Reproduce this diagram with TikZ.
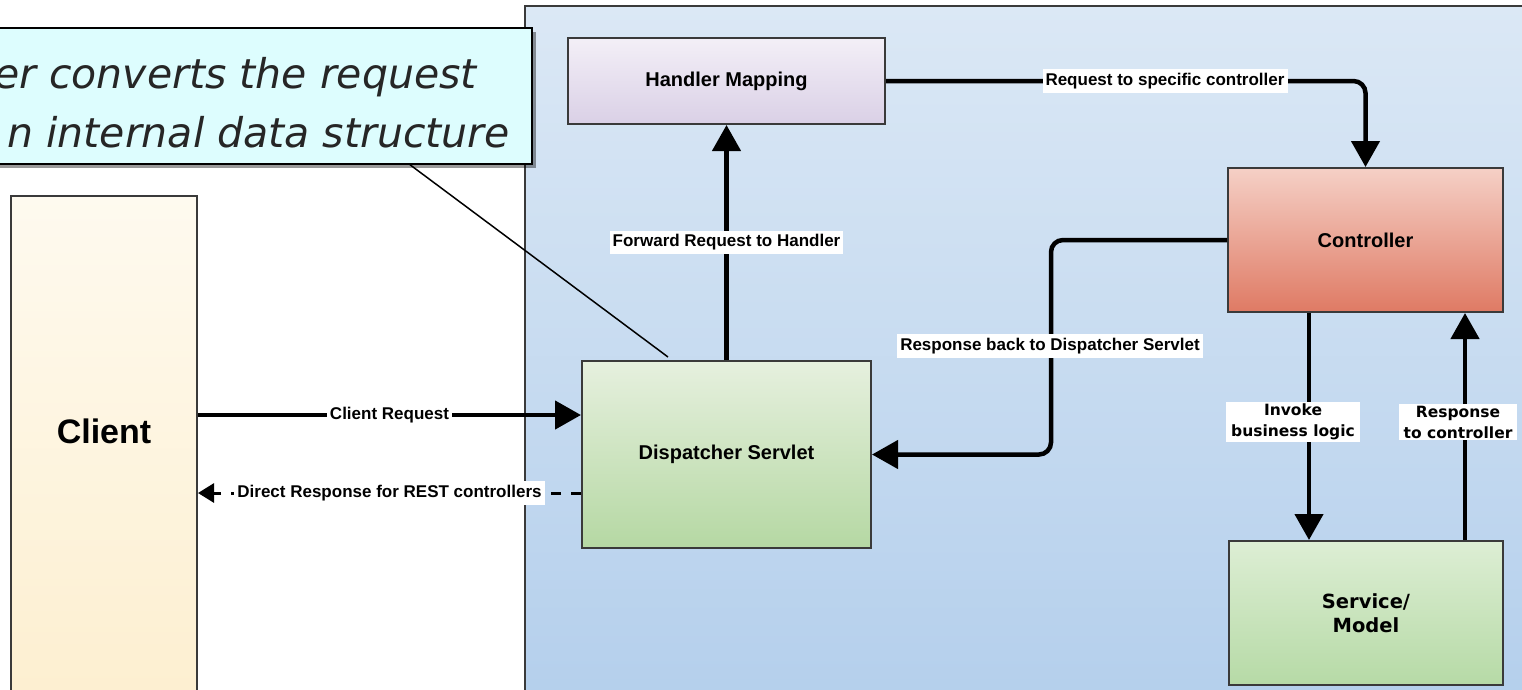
\documentclass[tikz,border=0pt]{standalone}
\usepackage{fontspec}
\setmainfont{Liberation Sans}
\newfontfamily\verd{DejaVu Sans}
\usetikzlibrary{arrows.meta,shadows,calc}
\definecolor{bord}{HTML}{3A3A3A}
\definecolor{blueT}{HTML}{DBE8F5}
\definecolor{blueB}{HTML}{B4CFEC}
\definecolor{hmT}{HTML}{F3EFF7}
\definecolor{hmB}{HTML}{DAD0E6}
\definecolor{ctT}{HTML}{F5D0C6}
\definecolor{ctB}{HTML}{DF7A64}
\definecolor{dsT}{HTML}{E6F0DE}
\definecolor{dsB}{HTML}{B5D8A3}
\definecolor{svT}{HTML}{DDEED4}
\definecolor{svB}{HTML}{B6DAA6}
\definecolor{clT}{HTML}{FEFAEF}
\definecolor{clB}{HTML}{FDEFD0}
\definecolor{noteC}{HTML}{DDFDFE}
\begin{document}
\begin{tikzpicture}[x=1pt,y=-1pt,
  box/.style={draw=bord, line width=2pt, inner sep=0pt, align=center,
    font=\fontsize{20}{24}\selectfont\bfseries},
  conn/.style={line width=4.5pt, -{Triangle[length=26pt,width=28pt]}},
  lbl/.style={fill=white, inner xsep=3pt, inner ysep=4pt,
    font=\fontsize{17}{20}\selectfont\bfseries},
  vlbl/.style={fill=white, inner xsep=5pt, inner ysep=2pt, align=center,
    font=\verd\fontsize{15.5}{21}\selectfont\bfseries},
  notetext/.style={anchor=base east, inner sep=0pt,
    font=\verd\itshape\fontsize{41}{59}\selectfont, text=black!85},
]
\useasboundingbox (0,0) rectangle (1522,689);
\fill[white] (0,0) rectangle (1522,689);

% container
\path[draw=bord, line width=2pt, top color=blueT, bottom color=blueB]
  (525,6) rectangle (1545,705);

% boxes
\node[box, top color=clT, bottom color=clB, minimum width=186pt, minimum height=504pt,
  font=\fontsize{34}{40}\selectfont\bfseries] (client) at (104,448) {\raisebox{33pt}{Client}};
\node[box, top color=hmT, bottom color=hmB, minimum width=317pt, minimum height=86pt]
  (hm) at (726.5,81) {Handler Mapping};
\node[box, top color=ctT, bottom color=ctB, minimum width=275pt, minimum height=144pt]
  (ctrl) at (1365.5,240) {Controller};
\node[box, top color=dsT, bottom color=dsB, minimum width=289pt, minimum height=187pt]
  (disp) at (726.5,454.5) {Dispatcher Servlet};
\node[box, top color=svT, bottom color=svB, minimum width=274pt, minimum height=144pt,
  font=\verd\fontsize{19.5}{24}\selectfont\bfseries]
  (svc) at (1366,613) {Service/\\Model};

% connectors
\draw[conn] (client.east |- 0,415) -- node[lbl]{Client Request} (disp.west |- 0,415);
\draw[line width=3pt, dash pattern=on 10pt off 10pt, -{Triangle[length=16pt,width=19pt]}]
  (disp.west |- 0,493) -- node[lbl]{Direct Response for REST controllers} (client.east |- 0,493);
\draw[conn] (disp.north) -- node[lbl]{Forward Request to Handler} (hm.south);
\draw[conn, rounded corners=12pt] (hm.east) -| (ctrl.north);
\node[lbl] (l1) at (1165,81) {Request to specific controller};
\draw[conn, rounded corners=12pt] (ctrl.west) -| ($(disp.east)+(179,0)$) -- (disp.east);
\node[lbl] (l2) at (1050,346) {Response back to Dispatcher Servlet};
\draw[conn] (ctrl.south -| 1309,0) -- (svc.north -| 1309,0);
\node[vlbl] (l3) at (1293,422) {Invoke\\business logic};
\draw[conn] (svc.north -| 1465,0) -- (ctrl.south -| 1465,0);
\node[vlbl] (l4) at (1458,422) {Response\\to controller};

% callout
\node[draw=black, line width=1.5pt, fill=noteC, minimum width=552pt, minimum height=136pt,
  drop shadow={shadow xshift=4pt, shadow yshift=-4pt, opacity=0.4, fill=black}]
  (note) at (256,96) {};
\node[notetext] (t1) at (477,88) {er converts the request};
\node[notetext] (t2) at (510,147) {n internal data structure};
\draw[line width=1.5pt] (note.south -| 410,0) -- (668,357);
\end{tikzpicture}
\end{document}
